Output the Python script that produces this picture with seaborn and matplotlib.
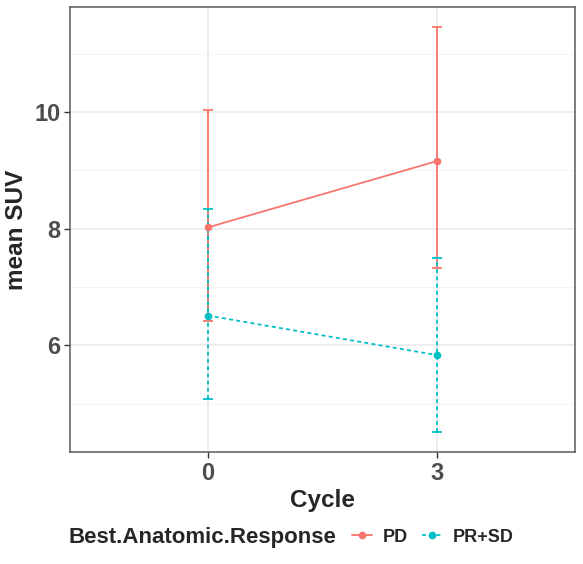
import pandas as pd
import matplotlib.pyplot as plt
import seaborn as sns
from matplotlib.ticker import FixedLocator

# data
cycles = ["0", "3"]
groups = ["PD", "PR+SD"]
pd_mean = [8.02, 9.16]
pd_low = [6.42, 7.33]
pd_high = [10.03, 11.45]
prsd_mean = [6.51, 5.83]
prsd_low = [5.08, 4.52]
prsd_high = [8.34, 7.50]

colors = {"PD": "#F8766D", "PR+SD": "#00BFC4"}
dash = (2.2, 1.8)

sns.set_style("white")
plt.rcParams['font.family'] = ['Liberation Sans', 'DejaVu Sans']

rows = []
for i, c in enumerate(cycles):
    rows.append({"pos": i, "Cycle": c, "group": "PD", "mean": pd_mean[i], "low": pd_low[i], "high": pd_high[i]})
    rows.append({"pos": i, "Cycle": c, "group": "PR+SD", "mean": prsd_mean[i], "low": prsd_low[i], "high": prsd_high[i]})
df = pd.DataFrame(rows)

fig = plt.figure(figsize=(5.83, 5.64), dpi=100)
ax = fig.add_axes([70/583, 112/564, 505/583, 445/564])

# grid
ax.set_axisbelow(True)
for y in [5, 7, 9, 11]:
    ax.axhline(y, color="#F4F4F4", lw=0.7, zorder=0)
for y in [6, 8, 10]:
    ax.axhline(y, color="#E8E8E8", lw=1.1, zorder=0)
for x in [0, 1]:
    ax.axvline(x, color="#E8E8E8", lw=1.1, zorder=0)

# error bars
for g in groups:
    sub = df[df.group == g]
    eb = ax.errorbar(sub["pos"], sub["mean"],
                     yerr=[sub["mean"] - sub["low"], sub["high"] - sub["mean"]],
                     fmt="none", ecolor=colors[g], capsize=3.7, elinewidth=1.3,
                     capthick=1.3, zorder=2)
    if g == "PR+SD":
        eb[2][0].set_linestyle((0, dash))

sns.lineplot(data=df, x="pos", y="mean", hue="group", style="group",
             palette=colors, dashes={"PD": "", "PR+SD": dash},
             markers={"PD": "o", "PR+SD": "o"}, markersize=5.5,
             markeredgewidth=0, linewidth=1.3, ax=ax, zorder=3)

handles, labels = ax.get_legend_handles_labels()
ax.get_legend().remove()

ax.set_xlim(-0.6, 1.6)
ax.set_ylim(4.17, 11.8)
ax.xaxis.set_major_locator(FixedLocator([0, 1]))
ax.set_xticklabels(cycles)
ax.set_yticks([6, 8, 10])
ax.tick_params(axis="both", which="major", length=4, width=1, color="#333333",
               labelsize=17, labelcolor="#4D4D4D", pad=3, left=True, bottom=True)
for lab in ax.get_xticklabels() + ax.get_yticklabels():
    lab.set_fontweight("bold")

for s in ax.spines.values():
    s.set_color("#5A5A5A")
    s.set_linewidth(1.1)

ax.set_xlabel("Cycle", fontsize=17.5, fontweight="bold", labelpad=3)
ax.set_ylabel("mean SUV", fontsize=17.5, fontweight="bold", labelpad=4)

# legend at bottom
fig.text(68/583, 1 - 537/564, "Best.Anatomic.Response", ha="left", va="center",
         fontsize=16, fontweight="bold")
fig.legend(handles, labels, loc="center left", bbox_to_anchor=(345/583, 1 - 537/564),
           ncol=2, frameon=False, prop={"size": 13, "weight": "bold"},
           handlelength=1.1, handletextpad=0.6, columnspacing=0.8, borderaxespad=0)

fig.savefig("out.png", dpi=100)
